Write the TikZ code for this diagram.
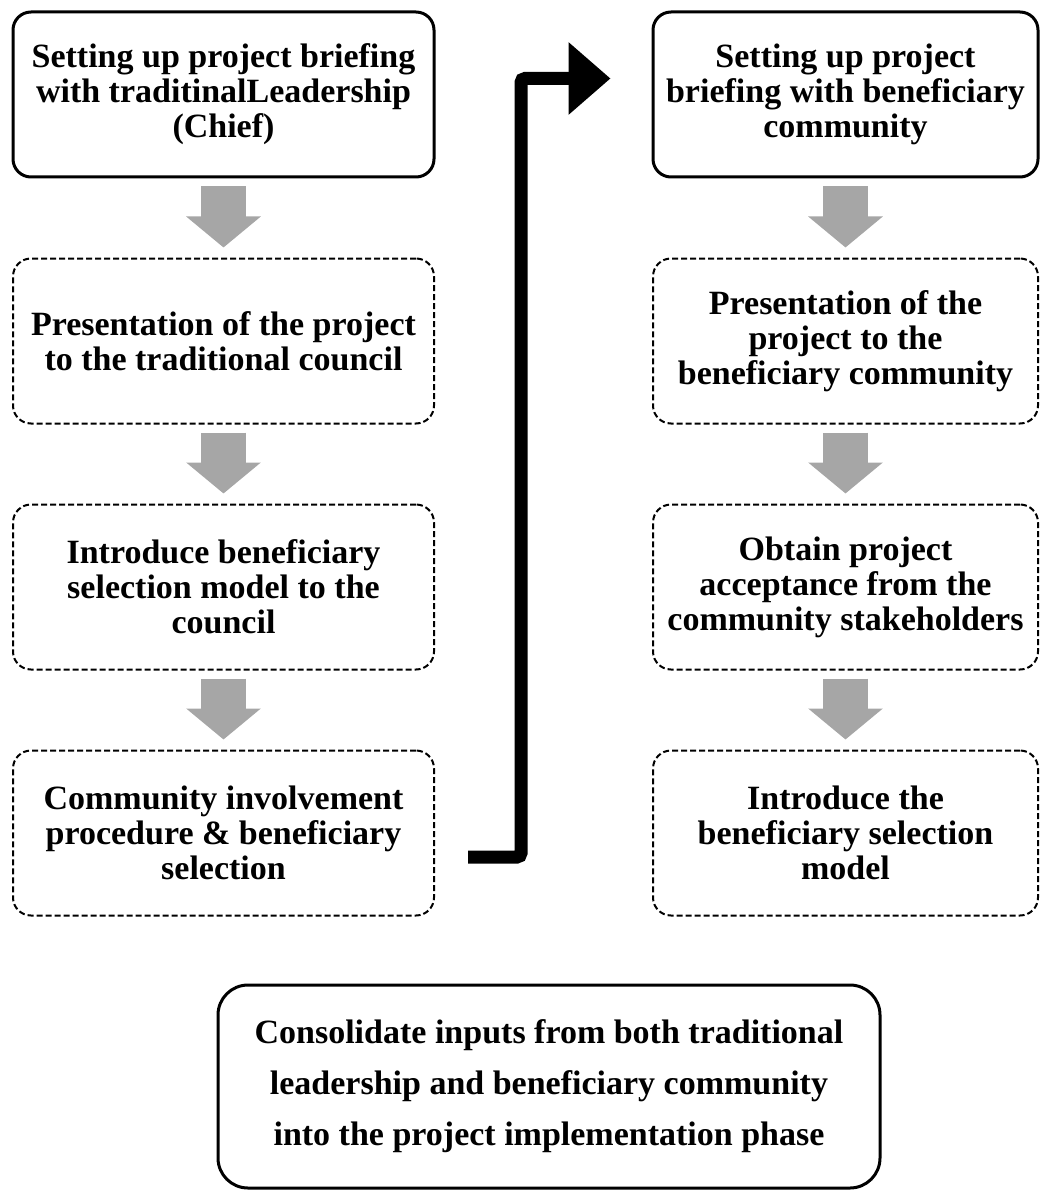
\documentclass[tikz,border=0pt]{standalone}
\usepackage{fontspec}
\setmainfont{Liberation Serif}
\usepackage{xcolor}
\usepackage{tikz}
\usetikzlibrary{arrows.meta, positioning, calc}
\definecolor{arrowgray}{RGB}{166, 166, 166}

\begin{document}
\begin{tikzpicture}[
        x=1pt, y=-1pt,
        node distance=79pt,
        box/.style={rounded corners=18pt, minimum height=165pt, align=center,
                    font=\fontsize{34}{35}\selectfont\bfseries},
        solidbox/.style={box, draw, line width=3pt},
        dashbox/.style={box, draw, line width=2pt, dash pattern=on 6pt off 3pt},
        final/.style={draw, line width=3pt, rounded corners=30pt, minimum width=662pt,
                    minimum height=203pt, align=center,
                    font=\fontsize{34}{51}\selectfont\bfseries},
        flow/.style={arrowgray, line width=45pt, shorten <=8pt, shorten >=10pt,
                    -{Triangle[length=31pt, width=73pt]}},
        link/.style={line width=13pt, rounded corners=4pt,
                    -{Triangle[length=42pt, width=70pt]}}
      ]
        \useasboundingbox (0,0) rectangle (1039,1190);
        % traditional leadership side
        \node[solidbox, minimum width=421pt] at (223.5,94.5)
              (l1) {Setting up project briefing\\with traditinalLeadership\\(Chief)};
        \node[dashbox, minimum width=421pt, below=of l1]
              (l2) {Presentation of the project\\to the traditional council};
        \node[dashbox, minimum width=421pt, below=of l2]
              (l3) {Introduce beneficiary\\selection model to the\\council};
        \node[dashbox, minimum width=421pt, below=of l3]
              (l4) {Community involvement\\procedure \& beneficiary\\selection};
        % beneficiary community side
        \node[solidbox, minimum width=385pt] at (845.5,94.5)
              (r1) {Setting up project\\briefing with beneficiary\\community};
        \node[dashbox, minimum width=385pt, below=of r1]
              (r2) {Presentation of the\\project to the\\beneficiary community};
        \node[dashbox, minimum width=385pt, below=of r2]
              (r3) {Obtain project\\acceptance from the\\community stakeholders};
        \node[dashbox, minimum width=385pt, below=of r3]
              (r4) {Introduce the\\beneficiary selection\\model};
        \node[final] at (549,1086.5)
              (sum) {Consolidate inputs from both traditional\\leadership and beneficiary community\\into the project implementation phase};
        \foreach \a/\b in {l1/l2, l2/l3, l3/l4, r1/r2, r2/r3, r3/r4}
          \draw[flow] (\a) -- (\b);
        \coordinate (from) at ($(l4.east)+(33,24)$);
        \coordinate (to) at ($(r1.west)+(-41,-16)$);
        \draw[link] (from) -- ++(53,0) |- (to);
      \end{tikzpicture}
\end{document}
